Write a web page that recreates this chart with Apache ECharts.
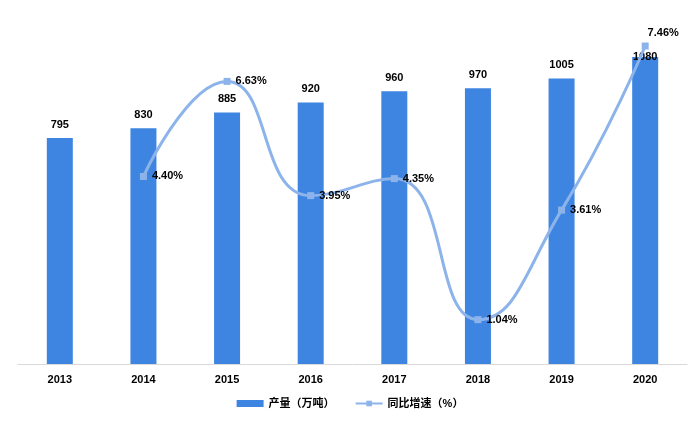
<!DOCTYPE html>
<html>
<head>
<meta charset="utf-8">
<script src="https://cdn.jsdelivr.net/npm/echarts@6/dist/echarts.min.js"></script>
<style>
  html, body { margin: 0; padding: 0; background: #fff; }
  #chart { width: 700px; height: 424px; }
</style>
</head>
<body>
<div id="chart"></div>
<script>
const years = ['2013', '2014', '2015', '2016', '2017', '2018', '2019', '2020']
const output = [795, 830, 885, 920, 960, 970, 1005, 1080]
const growth = [null, 4.40, 6.63, 3.95, 4.35, 1.04, 3.61, 7.46]

const font = '"Liberation Sans", Arial, "Noto Sans CJK SC", sans-serif'

const myChart = echarts.init(document.getElementById('chart'))

let option = {
  textStyle: { fontFamily: font },
  grid: {
    left: 18,
    right: 13,
    top: 23,
    bottom: 60
  },
  legend: {
    bottom: 10,
    left: 'center',
    itemGap: 20,
    itemWidth: 27,
    itemHeight: 7,
    textStyle: { fontSize: 11, fontWeight: 'bold', color: '#000', fontFamily: font },
    data: [
      { name: '产量（万吨）', icon: 'rect' },
      { name: '同比增速（%）' }
    ]
  },
  xAxis: {
    type: 'category',
    data: years,
    axisLine: { lineStyle: { color: '#d9d9d9' } },
    axisTick: { show: false },
    axisLabel: { fontSize: 11, fontWeight: 'bold', color: '#000', margin: 10 }
  },
  yAxis: [
    { type: 'value', min: 0, max: 1200, show: false, splitLine: { show: false } },
    { type: 'value', min: 0, max: 8, show: false, splitLine: { show: false } }
  ],
  series: [
    {
      name: '产量（万吨）',
      type: 'bar',
      barWidth: 26,
      itemStyle: { color: '#3e85e1' },
      label: {
        show: true,
        position: 'top',
        distance: 8,
        fontSize: 11,
        fontWeight: 'bold',
        color: '#000'
      },
      data: output.map((v, i) => i === output.length - 1
        ? { value: v, label: { position: 'insideTop', offset: [0, -14] } }
        : v)
    },
    {
      name: '同比增速（%）',
      type: 'line',
      yAxisIndex: 1,
      smooth: 0.5,
      symbol: 'rect',
      symbolSize: 7,
      lineStyle: { width: 3, color: '#8db4ea' },
      itemStyle: { color: '#8db4ea' },
      label: {
        show: true,
        position: 'right',
        distance: 5,
        fontSize: 11,
        fontWeight: 'bold',
        color: '#000',
        formatter: p => p.value.toFixed(2) + '%'
      },
      data: growth.map((v, i) => i === growth.length - 1
        ? { value: v, label: { position: 'top', offset: [18, 1] } }
        : v)
    }
  ]
}
myChart.setOption(option)
</script>
</body>
</html>
